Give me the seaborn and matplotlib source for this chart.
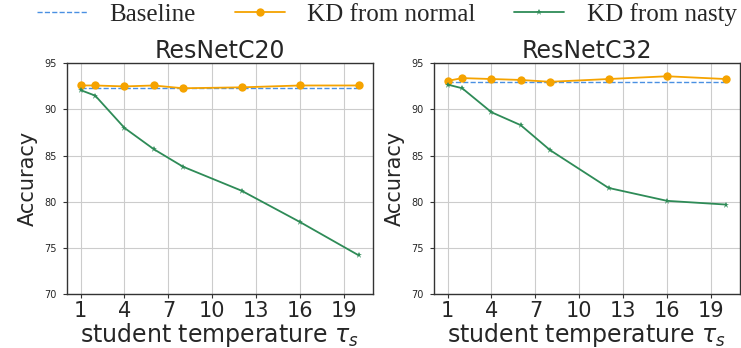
import numpy as np
import pandas as pd
import matplotlib
matplotlib.use('Agg')
import matplotlib.pyplot as plt
import seaborn as sns

# 数据
temps = [1, 2, 4, 6, 8, 12, 16, 20]
c20_baseline = 92.3
c20_normal = [92.6, 92.6, 92.5, 92.6, 92.3, 92.4, 92.6, 92.6]
c20_nasty = [92.1, 91.5, 88.0, 85.7, 83.8, 81.2, 77.8, 74.2]
c32_baseline = 93.0
c32_normal = [93.1, 93.4, 93.3, 93.2, 93.0, 93.3, 93.6, 93.3]
c32_nasty = [92.7, 92.3, 89.7, 88.3, 85.6, 81.5, 80.1, 79.7]
titles = ['ResNetC20', 'ResNetC32']

sns.set_style('whitegrid')
plt.rcParams['font.family'] = ['DejaVu Sans']

fig, axes = plt.subplots(1, 2, figsize=(7.41, 3.48), dpi=100)
fig.subplots_adjust(left=0.09, right=0.998, top=0.818, bottom=0.155, wspace=0.2)

panels = [(c20_baseline, c20_normal, c20_nasty), (c32_baseline, c32_normal, c32_nasty)]
for ax, title, (base, normal, nasty) in zip(axes, titles, panels):
    df = pd.DataFrame({'t': temps, 'normal': normal, 'nasty': nasty, 'base': [base] * len(temps)})
    sns.lineplot(data=df, x='t', y='base', ax=ax, color='#4a90e2', linestyle='--', linewidth=1.0,
                 label='Baseline', legend=False)
    sns.lineplot(data=df, x='t', y='normal', ax=ax, color='#f5a300', marker='o', markersize=6,
                 markeredgewidth=0, linewidth=1.3, label='KD from normal', legend=False)
    sns.lineplot(data=df, x='t', y='nasty', ax=ax, color='#2e8b57', marker='*', markersize=5,
                 markeredgewidth=0, linewidth=1.3, label='KD from nasty', legend=False)
    ax.set_ylim(70, 95)
    ax.set_yticks([70, 75, 80, 85, 90, 95])
    ax.set_xticks([1, 4, 7, 10, 13, 16, 19])
    ax.tick_params(axis='y', labelsize=7, length=3, left=True, color='#333333', pad=4)
    ax.tick_params(axis='x', labelsize=15, length=3, bottom=True, color='#333333', pad=2)
    ax.set_title(title, fontsize=17, pad=4)
    ax.set_xlabel(r'student temperature $\tau_s$', fontsize=17, labelpad=0)
    ax.set_ylabel('Accuracy', fontsize=15, labelpad=5)
    ax.grid(True, color='#cccccc', linewidth=0.8)
    for s in ax.spines.values():
        s.set_color('#333333')
        s.set_linewidth(1.0)

handles, labels = axes[0].get_legend_handles_labels()
fig.legend(handles, labels, loc='center', ncol=3, frameon=False,
           bbox_to_anchor=(0.522, 0.958), prop={'family': 'Liberation Serif', 'size': 18},
           columnspacing=1.55, handlelength=2.0, handletextpad=0.9)

plt.savefig('out.png', dpi=100)
